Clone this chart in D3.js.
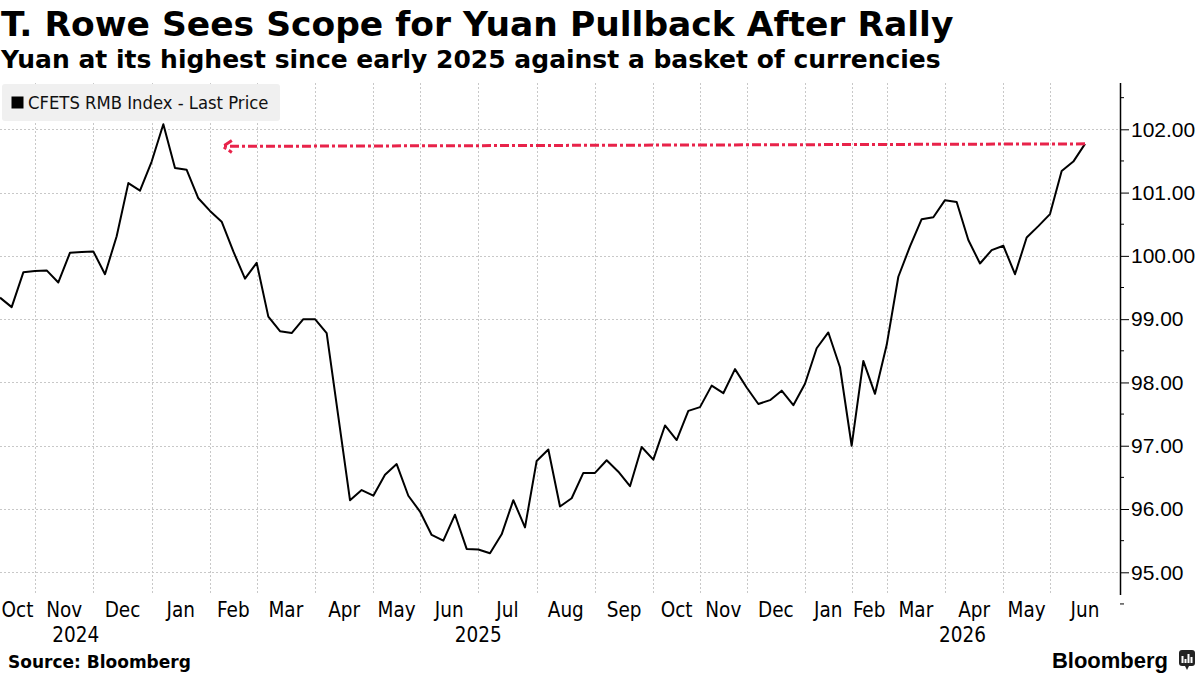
<!DOCTYPE html>
<html>
<head>
<meta charset="utf-8">
<script src="https://cdn.jsdelivr.net/npm/d3@7"></script>
<style>
  body { margin: 0; background: #fff; }
  svg { display: block; font-family: 'DejaVu Sans Condensed', 'DejaVu Sans', sans-serif; font-stretch: condensed; }
</style>
</head>
<body>
<div id="chart"></div>
<script>

// weekly CFETS RMB index readings, oldest first
const values = [
    99.34, 99.19, 99.74, 99.76, 99.77, 99.58, 100.05, 100.06, 100.07, 99.71,
    100.31, 101.15, 101.03, 101.49, 102.08, 101.39, 101.36, 100.91, 100.71, 100.54,
    100.07, 99.64, 99.89, 99.04, 98.81, 98.78, 99.00, 99.00, 98.78, 97.46,
    96.14, 96.30, 96.21, 96.54, 96.71, 96.21, 95.96, 95.59, 95.50, 95.91,
    95.37, 95.36, 95.30, 95.60, 96.14, 95.71, 96.76, 96.94, 96.04, 96.17,
    96.57, 96.57, 96.77, 96.59, 96.36, 96.98, 96.78, 97.32, 97.09, 97.55,
    97.61, 97.95, 97.83, 98.21, 97.92, 97.66, 97.72, 97.87, 97.64, 97.98,
    98.54, 98.79, 98.24, 97.00, 98.34, 97.82, 98.59, 99.67, 100.15, 100.58,
    100.61, 100.88, 100.85, 100.25, 99.88, 100.09, 100.16, 99.71, 100.29, 100.47,
    100.66, 101.34, 101.49, 101.77
]

// month labels and the index of the first weekly reading in each month
const monthNames = ["Oct", "Nov", "Dec", "Jan", "Feb", "Mar", "Apr", "May", "Jun", "Jul", "Aug",
    "Sep", "Oct", "Nov", "Dec", "Jan", "Feb", "Mar", "Apr", "May", "Jun"]
const monthStarts = [0, 3, 8, 13, 18, 22, 27, 32, 36, 41, 46, 51, 56, 60, 64, 69, 73, 76, 81, 86, 90]

const yearNames = ["2024", "2025", "2026"]
const yearStarts = [0, 13, 69]

const yTicks = [95, 96, 97, 98, 99, 100, 101, 102]

// the annotation arrow: from the last reading back to the same level last winter
const arrowFrom = { index: 93, value: 101.77 }
const arrowTo = { index: 19.1, value: 101.73 }

const width = 1200
const height = 675
const plotTop = 83
const plotBottom = 595
const plotRight = 1120
const domainEnd = 96

const x = d3.scaleLinear().domain([0, domainEnd]).range([0, plotRight])
const y = d3.scaleLinear().domain([95, 102]).range([572.3, 129.3])

const svg = d3.select("#chart")
    .append("svg")
    .attr("width", width)
    .attr("height", height)

// titles
svg.append("text")
    .attr("x", 1)
    .attr("y", 36)
    .attr("font-size", 34.5)
    .attr("font-weight", "bold")
    .attr("font-family", "'DejaVu Sans', sans-serif")
    .attr("font-stretch", "normal")
    .text("T. Rowe Sees Scope for Yuan Pullback After Rally")

svg.append("text")
    .attr("x", 1)
    .attr("y", 68)
    .attr("font-size", 25)
    .attr("font-weight", "bold")
    .attr("font-family", "'DejaVu Sans', sans-serif")
    .attr("font-stretch", "normal")
    .text("Yuan at its highest since early 2025 against a basket of currencies")

// horizontal grid
svg.append("g")
    .selectAll("line")
    .data(yTicks)
    .enter()
    .append("line")
    .attr("x1", 0)
    .attr("x2", plotRight)
    .attr("y1", d => Math.round(y(d)) + 0.5)
    .attr("y2", d => Math.round(y(d)) + 0.5)
    .attr("stroke", "#c8c8c8")
    .attr("stroke-width", 1)
    .attr("stroke-dasharray", "2,2")

// vertical grid at month starts
svg.append("g")
    .selectAll("line")
    .data(monthStarts.filter(d => d > 0))
    .enter()
    .append("line")
    .attr("x1", d => Math.round(x(d)) + 0.5)
    .attr("x2", d => Math.round(x(d)) + 0.5)
    .attr("y1", plotTop)
    .attr("y2", plotBottom)
    .attr("stroke", "#c8c8c8")
    .attr("stroke-width", 1)
    .attr("stroke-dasharray", "2,2")

// legend
const legend = svg.append("g").attr("transform", "translate(2, 84)")
legend.append("rect")
    .attr("width", 278)
    .attr("height", 37)
    .attr("rx", 3)
    .attr("fill", "#f0f0f0")
legend.append("rect")
    .attr("x", 9.5)
    .attr("y", 12.5)
    .attr("width", 12)
    .attr("height", 12)
    .attr("fill", "#000")
legend.append("text")
    .attr("x", 26)
    .attr("y", 25)
    .attr("font-size", 18.3)
    .attr("fill", "#111")
    .text("CFETS RMB Index - Last Price")

// price line
const line = d3.line()
    .x((d, i) => x(i))
    .y(d => y(d))

svg.append("path")
    .datum(values)
    .attr("d", line)
    .attr("fill", "none")
    .attr("stroke", "#000")
    .attr("stroke-width", 2)
    .attr("stroke-linejoin", "round")

// annotation arrow
const ax1 = x(arrowFrom.index), ay1 = y(arrowFrom.value)
const ax2 = x(arrowTo.index), ay2 = y(arrowTo.value)
svg.append("path")
    .attr("d", `M${ax1},${ay1}L${ax2},${ay2}M${ax2 + 9},${ay2 - 6}L${ax2},${ay2}L${ax2 + 9},${ay2 + 6}`)
    .attr("fill", "none")
    .attr("stroke", "#e8234a")
    .attr("stroke-width", 3)
    .attr("stroke-dasharray", "9,3,3,3")

// right axis
const axis = d3.axisRight(y)
    .tickValues(yTicks)
    .tickSize(9)
    .tickPadding(2)
    .tickFormat(d3.format(".2f"))

const axisG = svg.append("g")
    .attr("transform", `translate(${plotRight},0)`)
    .call(axis)

axisG.select(".domain").remove()
axisG.selectAll("text")
    .attr("font-size", 21)
    .attr("font-family", null)
    .attr("fill", "#000")
axisG.selectAll("line").attr("stroke", "#000")

axisG.append("line")
    .attr("x1", 0.5).attr("x2", 0.5)
    .attr("y1", plotTop).attr("y2", plotBottom)
    .attr("stroke", "#000")
    .attr("stroke-width", 1.5)

// minor ticks on the half points
axisG.selectAll(".minor")
    .data(yTicks.map(d => d + 0.5).concat([94.5]))
    .enter()
    .append("line")
    .attr("class", "minor")
    .attr("x1", 0).attr("x2", 4)
    .attr("y1", d => y(d)).attr("y2", d => y(d))
    .attr("stroke", "#000")

// month labels centred over each month
const monthEnds = monthStarts.slice(1).concat([domainEnd])
svg.append("g")
    .selectAll("text")
    .data(monthNames)
    .enter()
    .append("text")
    .attr("x", (d, i) => (x(monthStarts[i]) + x(monthEnds[i])) / 2)
    .attr("y", 617)
    .attr("text-anchor", "middle")
    .attr("font-size", 20.5)
    .text(d => d)

const yearEnds = yearStarts.slice(1).concat([domainEnd])
svg.append("g")
    .selectAll("text")
    .data(yearNames)
    .enter()
    .append("text")
    .attr("x", (d, i) => (x(yearStarts[i]) + x(yearEnds[i])) / 2)
    .attr("y", 642)
    .attr("text-anchor", "middle")
    .attr("font-size", 20.5)
    .text(d => d)

// footer
svg.append("text")
    .attr("x", 8)
    .attr("y", 668)
    .attr("font-size", 17)
    .attr("font-weight", "bold")
    .attr("font-family", "'DejaVu Sans', sans-serif")
    .attr("font-stretch", "normal")
    .text("Source: Bloomberg")

svg.append("text")
    .attr("x", 1168)
    .attr("y", 668)
    .attr("text-anchor", "end")
    .attr("font-size", 22)
    .attr("font-weight", "bold")
    .attr("font-family", "'Liberation Sans', Arial, sans-serif")
    .attr("font-stretch", "normal")
    .text("Bloomberg")

const logo = svg.append("g").attr("transform", "translate(1179, 650)")
logo.append("rect")
    .attr("width", 16)
    .attr("height", 16)
    .attr("rx", 3)
    .attr("fill", "#222")
logo.selectAll(".bar")
    .data([7, 4, 9, 6])
    .enter()
    .append("rect")
    .attr("x", (d, i) => 2.5 + i * 3)
    .attr("y", d => 13 - d)
    .attr("width", 2)
    .attr("height", d => d)
    .attr("fill", "#fff")
logo.append("path")
    .attr("d", "M6,16L8,20L10,16Z")
    .attr("fill", "#222")

</script>
</body>
</html>
